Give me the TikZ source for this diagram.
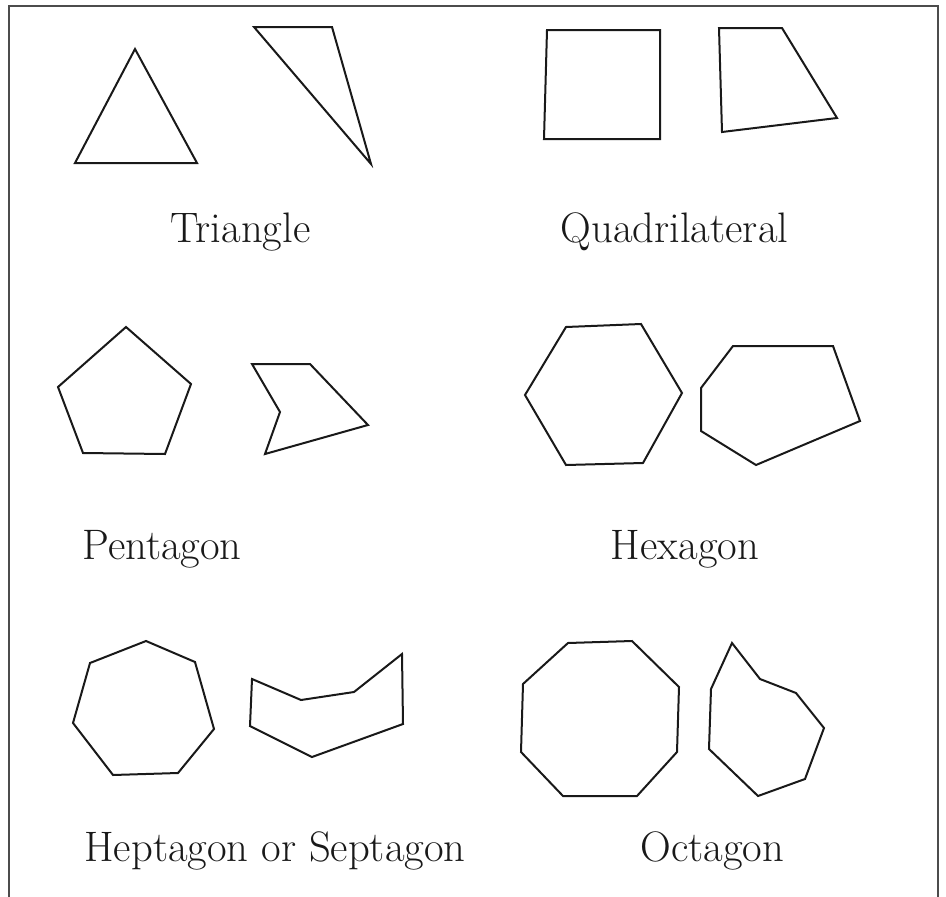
\documentclass[tikz,border=0pt]{standalone}
\begin{document}
\begin{tikzpicture}[x=1bp,y=-1bp,
  poly/.style={draw=black!90, line width=2bp, line join=miter},
  frame/.style={draw=black!70, line width=1.1bp},
  lbl/.style={anchor=base, inner sep=0pt, font=\fontsize{42.8}{50}\selectfont, text=black!90}]
\useasboundingbox (0,0) rectangle (946,897);
% frame
\draw[frame] (9,897) -- (9,6) -- (938,6) -- (938,897);
% Triangle
\draw[poly] (135,49) -- (197,163) -- (75,163) -- cycle;
\draw[poly] (254,27) -- (332,27) -- (371,164) -- cycle;
\node[lbl] (ltri) at (240.5,242) {Triangle};
% Quadrilateral
\draw[poly] (547,30) -- (660,30) -- (660,139) -- (544,139) -- cycle;
\draw[poly] (719,28) -- (782,28) -- (837,118) -- (722,132) -- cycle;
\node[lbl] (lquad) at (674.5,242) {Quadrilateral};
% Pentagon
\draw[poly] (126,327) -- (191,384) -- (165,454) -- (83,453) -- (58,387) -- cycle;
\draw[poly] (252,364) -- (310,364) -- (368,425) -- (265,454) -- (280,412) -- cycle;
\node[lbl] (lpent) at (162,559) {Pentagon};
% Hexagon
\draw[poly] (566,327) -- (641,324) -- (682,393) -- (643,463) -- (566,465) -- (525,395) -- cycle;
\draw[poly] (733,346) -- (833,346) -- (860,421) -- (756,465) -- (701,431) -- (701,388) -- cycle;
\node[lbl] (lhex) at (685,559) {Hexagon};
% Heptagon
\draw[poly] (146,641) -- (195,662) -- (214,729) -- (178,773) -- (113,775) -- (73,723) -- (90,663) -- cycle;
\draw[poly] (252,679) -- (301,700) -- (354,692) -- (402,654) -- (403,724) -- (312,757) -- (250,726) -- cycle;
\node[lbl] (lhept) at (275,861) {Heptagon or Septagon};
% Octagon
\draw[poly] (568,643) -- (632,641) -- (679,687) -- (677,752) -- (637,796) -- (563,796) -- (521,752) -- (523,684) -- cycle;
\draw[poly] (732,643) -- (760,679) -- (796,693) -- (824,728) -- (805,779) -- (758,796) -- (709,749) -- (711,689) -- cycle;
\node[lbl] (loct) at (712.5,861) {Octagon};
\end{tikzpicture}
\end{document}
